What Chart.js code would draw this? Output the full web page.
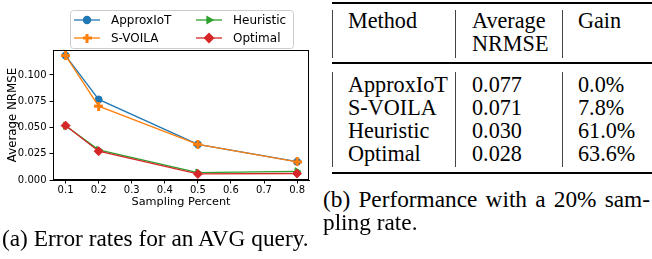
<!DOCTYPE html>
<html>
<head>
<meta charset="utf-8">
<script src="https://cdn.jsdelivr.net/npm/chart.js@4.4.1/dist/chart.umd.min.js"></script>
<style>
  body { margin: 0; width: 652px; height: 259px; position: relative; overflow: hidden; background: #fff;
         font-family: "Liberation Serif", "Times New Roman", serif; color: #000; }
  #plot { position: absolute; left: 0; top: 0; }
  .txt { position: absolute; font-size: 22.2px; line-height: 24px; white-space: nowrap; }
  .cap { font-size: 23.3px; }
  .rule { position: absolute; left: 332px; width: 320px; background: #000; }
  .vbar { position: absolute; width: 1px; background: #444; }
</style>
</head>
<body>
<canvas id="plot" width="320" height="215"></canvas>
<div id="table"></div>

<script>
// chart data
const samplingPercent = [0.1, 0.2, 0.5, 0.8];
const approxIoT = [0.1185, 0.0767, 0.0339, 0.0174];
const sVoila = [0.1185, 0.0703, 0.0340, 0.0172];
const heuristic = [0.0516, 0.0287, 0.0071, 0.0083];
const optimal = [0.0518, 0.0274, 0.0058, 0.0062];
const xTicks = [0.1, 0.2, 0.3, 0.4, 0.5, 0.6, 0.7, 0.8];
const yTicks = [0, 0.025, 0.05, 0.075, 0.1];

// table data
const methods = ['ApproxIoT', 'S-VOILA', 'Heuristic', 'Optimal'];
const nrmseAt20 = ['0.077', '0.071', '0.030', '0.028'];
const gains = ['0.0%', '7.8%', '61.0%', '63.6%'];

// filled plus marker like matplotlib 'P'
function plusMarker(color) {
  const c = document.createElement('canvas');
  c.width = 9; c.height = 9;
  const g = c.getContext('2d');
  g.fillStyle = color;
  g.fillRect(3, 0, 3, 9);
  g.fillRect(0, 3, 9, 3);
  return c;
}

const series = [
  { label: 'ApproxIoT', data: approxIoT, color: '#1f77b4', style: 'circle', radius: 3.5, rotation: 0 },
  { label: 'S-VOILA', data: sVoila, color: '#ff7f0e', style: plusMarker('#ff7f0e'), radius: 4, rotation: 0 },
  { label: 'Heuristic', data: heuristic, color: '#2ca02c', style: 'triangle', radius: 4, rotation: 90 },
  { label: 'Optimal', data: optimal, color: '#d62728', style: 'rectRot', radius: 4.5, rotation: 0 },
];

const datasets = series.map((s, i) => ({
  label: s.label,
  data: samplingPercent.map((x, j) => ({ x: x, y: s.data[j] })),
  borderColor: s.color,
  backgroundColor: s.color,
  borderWidth: 1.3,
  pointStyle: s.style,
  pointRadius: s.radius,
  pointRotation: s.rotation,
  pointBorderWidth: 1,
  tension: 0,
  order: series.length - 1 - i,
}));

// box around the plot area
const framePlugin = {
  id: 'frame',
  afterDatasetsDraw(chart) {
    const a = chart.chartArea, ctx = chart.ctx;
    ctx.save();
    ctx.strokeStyle = '#000';
    ctx.lineWidth = 1;
    ctx.strokeRect(Math.round(a.left) + 0.5, Math.round(a.top) + 0.5,
      Math.round(a.right - a.left) - 1, Math.round(a.bottom - a.top) - 1);
    ctx.restore();
  }
};

// matplotlib style legend: line + marker, two columns
const legendPlugin = {
  id: 'mplLegend',
  afterDraw(chart) {
    const ctx = chart.ctx;
    ctx.save();
    const bx = 70, by = 10, bw = 223, bh = 38, r = 3;
    ctx.beginPath();
    ctx.roundRect(bx + 0.5, by + 0.5, bw, bh, r);
    ctx.fillStyle = 'rgba(255,255,255,0.8)';
    ctx.fill();
    ctx.strokeStyle = '#cccccc';
    ctx.lineWidth = 1;
    ctx.stroke();
    ctx.font = '12px "DejaVu Sans"';
    ctx.textBaseline = 'middle';
    chart.data.datasets.forEach((ds, i) => {
      const col = Math.floor(i / 2), row = i % 2;
      const x0 = 74 + col * 122, y = 20 + row * 18;
      ctx.strokeStyle = ds.borderColor;
      ctx.lineWidth = ds.borderWidth;
      ctx.beginPath();
      ctx.moveTo(x0, y);
      ctx.lineTo(x0 + 26, y);
      ctx.stroke();
      ctx.fillStyle = ds.backgroundColor;
      Chart.helpers.drawPoint(ctx, {
        pointStyle: ds.pointStyle, radius: ds.pointRadius,
        rotation: ds.pointRotation, borderWidth: 1
      }, x0 + 13, y);
      ctx.fillStyle = '#000';
      ctx.fillText(ds.label, x0 + 37, y + 0.5);
    });
    ctx.restore();
  }
};

const tickFont = { family: 'DejaVu Sans', size: 10 };

new Chart(document.getElementById('plot').getContext('2d'), {
  type: 'line',
  data: { datasets: datasets },
  options: {
    responsive: false,
    animation: false,
    devicePixelRatio: 1,
    layout: { padding: { top: 50, right: 11, left: 0, bottom: 0 } },
    plugins: { legend: { display: false }, tooltip: { enabled: false } },
    scales: {
      x: {
        type: 'linear',
        min: 0.062,
        max: 0.836,
        afterBuildTicks: s => { s.ticks = xTicks.map(v => ({ value: v })); },
        afterFit: s => { s.height = 35; },
        ticks: { callback: v => v.toFixed(1), font: tickFont, color: '#000', padding: 1, maxRotation: 0, autoSkip: false },
        grid: { drawOnChartArea: false, drawTicks: true, tickLength: 3.5, color: '#000' },
        border: { display: true, color: '#000', width: 1 },
        title: { display: true, text: 'Sampling Percent', font: { family: 'DejaVu Sans', size: 11.3 }, color: '#000', padding: { top: 0, bottom: 6 } }
      },
      y: {
        min: 0,
        max: 0.1238,
        afterBuildTicks: s => { s.ticks = yTicks.map(v => ({ value: v })); },
        afterFit: s => { s.width = 53; },
        ticks: { callback: v => v.toFixed(3), font: tickFont, color: '#000', padding: 3 },
        grid: { drawOnChartArea: false, drawTicks: true, tickLength: 3.5, color: '#000' },
        border: { display: true, color: '#000', width: 1 },
        title: { display: true, text: 'Average NRMSE', font: { family: 'DejaVu Sans', size: 11.8 }, color: '#000', padding: { top: 5.5, bottom: 0 } }
      }
    }
  },
  plugins: [framePlugin, legendPlugin]
});

// table (b) and captions
const table = document.getElementById('table');
function put(text, x, yCenter, cls) {
  const d = document.createElement('div');
  d.className = 'txt' + (cls ? ' ' + cls : '');
  d.textContent = text;
  d.style.left = x + 'px';
  d.style.top = (yCenter - 12) + 'px';
  table.appendChild(d);
  return d;
}
function rule(y, h) {
  const d = document.createElement('div');
  d.className = 'rule';
  d.style.top = y + 'px';
  d.style.height = h + 'px';
  table.appendChild(d);
}
function vbar(x, y0, y1) {
  const d = document.createElement('div');
  d.className = 'vbar';
  d.style.left = x + 'px';
  d.style.top = y0 + 'px';
  d.style.height = (y1 - y0) + 'px';
  table.appendChild(d);
}
const colX = [348, 472, 578];
const barX = [332, 455, 562];
const rowY = [85, 108, 131, 154];
rule(2, 1.5); rule(62, 1.5); rule(172, 1.5);
barX.forEach(x => { vbar(x, 10, 58); vbar(x, 72, 167); });
put('Method', colX[0], 21);
put('Average', colX[1], 21);
put('NRMSE', colX[1], 44);
put('Gain', colX[2], 21);
methods.forEach((m, i) => {
  put(m, colX[0], rowY[i]);
  put(nrmseAt20[i], colX[1], rowY[i]);
  put(gains[i], colX[2], rowY[i]);
});
// justified first caption line: stretch word gaps to the column width
const capB = put('(b) Performance with a 20% sam-', 323, 199, 'cap');
const gaps = capB.textContent.split(' ').length - 1;
capB.style.wordSpacing = ((327 - capB.getBoundingClientRect().width) / gaps) + 'px';
put('pling rate.', 323, 222, 'cap');
put('(a) Error rates for an AVG query.', 2, 238, 'cap');
</script>
</body>
</html>
